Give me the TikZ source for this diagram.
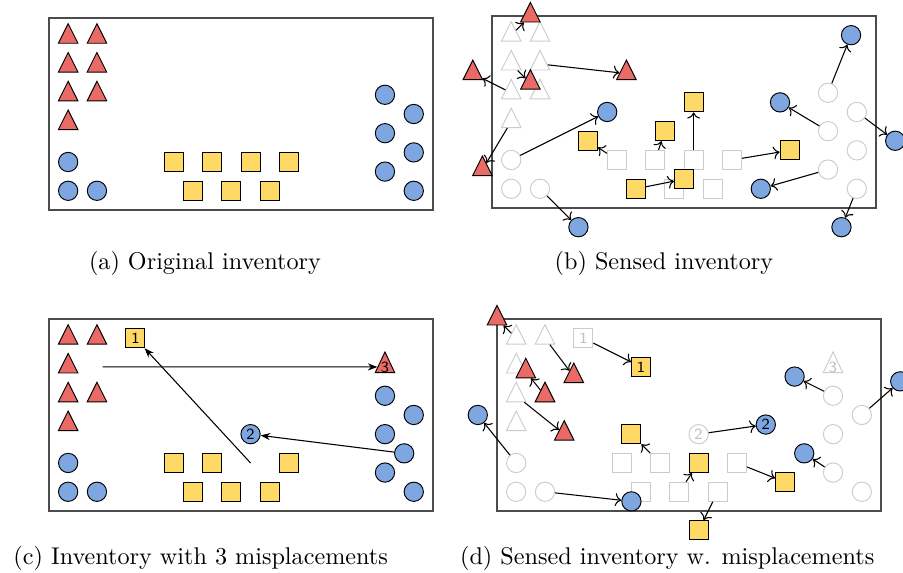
\documentclass[tikz,border=0pt]{standalone}
\usetikzlibrary{arrows.meta,shapes.geometric}
\definecolor{trired}{HTML}{EA6B66}
\definecolor{itemblue}{HTML}{7EA6E0}
\definecolor{boxyellow}{HTML}{FFD966}
\newcommand\digitfont{\fontsize{6.5}{6.5}\selectfont\sffamily}
\tikzset{
  frame/.style  = {draw=black!70, line width=0.5pt},
  tri/.style    = {isosceles triangle, isosceles triangle stretches,
                   shape border rotate=90, minimum width=8.2pt,
                   minimum height=8.2pt, inner sep=0pt, draw=black,
                   fill=trired, font=\digitfont},
  circ/.style   = {circle, minimum size=8.1pt, inner sep=0pt, draw=black,
                   fill=itemblue, font=\digitfont},
  sq/.style     = {rectangle, minimum size=8pt, inner sep=0pt, draw=black,
                   fill=boxyellow, font=\digitfont},
  ghost/.style  = {draw=black!20, fill=white, text=black!25},
  mv/.style     = {-{To}, draw=black, line width=0.45pt},
  mis/.style    = {-{Stealth[length=4pt]}, draw=black, line width=0.45pt},
  subcap/.style = {anchor=base, font=\fontsize{10.15}{12}\selectfont},
}
% item slots of the original inventory: number/x/y
\def\trilist{1/2/18,2/5/18,3/2/15,4/5/15,5/2/12,6/5/12,7/2/9}
\def\circlist{1/2/5,2/2/2,3/5/2,4/35/12,5/38/10,6/35/8,7/38/6,8/35/4,9/38/2}
\def\sqlist{1/13/5,2/17/5,3/21/5,4/25/5,5/15/2,6/19/2,7/23/2}

\begin{document}
\begin{tikzpicture}[x=4.03pt, y=4.03pt]
  \useasboundingbox (-5.10,-37.81) rectangle (88.96,21.875);

  % (a) original inventory
  \draw[frame] (0,0) rectangle (40,20);
  \foreach \n/\x/\y in \trilist  {\node[tri]  (a-t\n) at (\x,\y) {};}
  \foreach \n/\x/\y in \circlist {\node[circ] (a-c\n) at (\x,\y) {};}
  \foreach \n/\x/\y in \sqlist   {\node[sq]   (a-s\n) at (\x,\y) {};}

  % (b) sensed inventory
  \begin{scope}[shift={(46.15,0.21)}]
    \draw[frame] (0,0) rectangle (40,20);
    \foreach \n/\x/\y in \trilist  {\node[tri,ghost]  (b-gt\n) at (\x,\y) {};}
    \foreach \n/\x/\y in \circlist {\node[circ,ghost] (b-gc\n) at (\x,\y) {};}
    \foreach \n/\x/\y in \sqlist   {\node[sq,ghost]   (b-gs\n) at (\x,\y) {};}
    \node[tri]  (b-t1) at (4,20)  {};
    \node[tri]  (b-t3) at (4,13)  {};
    \node[tri]  (b-t4) at (14,14) {};
    \node[tri]  (b-t5) at (-2,14) {};
    \node[tri]  (b-t7) at (-1,4)  {};
    \node[circ] (b-c1) at (12,10)   {};
    \node[circ] (b-c3) at (9,-2)    {};
    \node[circ] (b-c4) at (37.4,18) {};
    \node[circ] (b-c5) at (42,7)    {};
    \node[circ] (b-c6) at (30,11)   {};
    \node[circ] (b-c8) at (28,2)    {};
    \node[circ] (b-c9) at (36.4,-2) {};
    \node[sq]   (b-s1) at (10,7) {};
    \node[sq]   (b-s2) at (18,8) {};
    \node[sq]   (b-s3) at (21,11) {};
    \node[sq]   (b-s4) at (31,6) {};
    \node[sq]   (b-s5) at (15,2) {};
    \node[sq]   (b-s6) at (20,3) {};
    \draw[mv] (b-gt1) -- (b-t1);
    \draw[mv] (b-gt3) -- (b-t3);
    \draw[mv] (b-gt4) -- (b-t4);
    \draw[mv] (b-gt5) -- (b-t5);
    \draw[mv] (b-gt7) -- (b-t7);
    \draw[mv] (b-gc1) -- (b-c1);
    \draw[mv] (b-gc3) -- (b-c3);
    \draw[mv] (b-gc4) -- (b-c4);
    \draw[mv] (b-gc5) -- (b-c5);
    \draw[mv] (b-gc6) -- (b-c6);
    \draw[mv] (b-gc8) -- (b-c8);
    \draw[mv] (b-gc9) -- (b-c9);
    \draw[mv] (b-gs1) -- (b-s1);
    \draw[mv] (b-gs2) -- (b-s2);
    \draw[mv] (b-gs3) -- (b-s3);
    \draw[mv] (b-gs4) -- (b-s4);
    \draw[mv] (b-s5) -- (b-s6);
  \end{scope}

  % (c) inventory with three misplaced items
  \begin{scope}[shift={(0,-31.35)}]
    \draw[frame] (0,0) rectangle (40,20);
    \foreach \n/\x/\y in {1/2/18,2/5/18,3/2/15,5/2/12,6/5/12,7/2/9}
      {\node[tri] (c-t\n) at (\x,\y) {};}
    \foreach \n/\x/\y in {1/2/5,2/2/2,3/5/2,4/35/12,5/38/10,6/35/8,7/37/6,8/35/4,9/38/2}
      {\node[circ] (c-c\n) at (\x,\y) {};}
    \foreach \n/\x/\y in {1/13/5,2/17/5,4/25/5,5/15/2,6/19/2,7/23/2}
      {\node[sq] (c-s\n) at (\x,\y) {};}
    \node[sq]   (c-m1) at (9,18)  {1};
    \node[circ] (c-m2) at (21,8)  {2};
    \node[tri]  (c-m3) at (35,15) {3};
    \coordinate (c-o1) at (21,5);
    \coordinate (c-o3) at (5.6,15);
    \draw[mis] (c-o1) -- (c-m1);
    \draw[mis] (c-c7) -- (c-m2);
    \draw[mis] (c-o3) -- (c-m3);
  \end{scope}

  % (d) sensed inventory with the misplaced items
  \begin{scope}[shift={(46.67,-31.35)}]
    \draw[frame] (0,0) rectangle (40,20);
    \foreach \n/\x/\y in {1/2/18,2/5/18,3/2/15,5/2/12,6/5/12,7/2/9}
      {\node[tri,ghost] (d-gt\n) at (\x,\y) {};}
    \foreach \n/\x/\y in {1/2/5,2/2/2,3/5/2,4/35/12,5/38/10,6/35/8,8/35/4,9/38/2}
      {\node[circ,ghost] (d-gc\n) at (\x,\y) {};}
    \foreach \n/\x/\y in {1/13/5,2/17/5,4/25/5,5/15/2,6/19/2,7/23/2}
      {\node[sq,ghost] (d-gs\n) at (\x,\y) {};}
    \node[sq,ghost]   (d-gm1) at (9,18)  {1};
    \node[circ,ghost] (d-gm2) at (21,8)  {2};
    \node[tri,ghost]  (d-gm3) at (35,15) {3};
    \node[tri]  (d-t1)  at (0,20)   {};
    \node[tri]  (d-t2)  at (8,14)   {};
    \node[tri]  (d-t6)  at (5,12)   {};
    \node[tri]  (d-t6b) at (3,14.5) {};
    \node[tri]  (d-t5)  at (7,8)    {};
    \node[circ] (d-c1) at (-2,10)   {};
    \node[circ] (d-c3) at (14,1)    {};
    \node[circ] (d-c4) at (31,14)   {};
    \node[circ] (d-c5) at (42,13.5) {};
    \node[circ] (d-c8) at (32,6)    {};
    \node[circ] (d-m2) at (28,9)    {2};
    \node[sq]   (d-s2) at (14,8)  {};
    \node[sq]   (d-s6) at (21,5)  {};
    \node[sq]   (d-s4) at (30,3)  {};
    \node[sq]   (d-s7) at (21,-2) {};
    \node[sq]   (d-m1) at (15,15) {1};
    \draw[mv] (d-gt1) -- (d-t1);
    \draw[mv] (d-gt2) -- (d-t2);
    \draw[mv] (d-t6)  -- (d-t6b);
    \draw[mv] (d-gt5) -- (d-t5);
    \draw[mv] (d-gc1) -- (d-c1);
    \draw[mv] (d-gc3) -- (d-c3);
    \draw[mv] (d-gc4) -- (d-c4);
    \draw[mv] (d-gc5) -- (d-c5);
    \draw[mv] (d-gc8) -- (d-c8);
    \draw[mv] (d-gm2) -- (d-m2);
    \draw[mv] (d-gs2) -- (d-s2);
    \draw[mv] (d-gs6) -- (d-s6);
    \draw[mv] (d-gs4) -- (d-s4);
    \draw[mv] (d-gs7) -- (d-s7);
    \draw[mv] (d-gm1) -- (d-m1);
  \end{scope}

  \node[subcap] (a-cap) at (16.25,-6.24)  {(a) Original inventory};
  \node[subcap] (b-cap) at (64.06,-6.24)  {(b) Sensed inventory};
  \node[subcap] (c-cap) at (15.8,-36.95)  {(c) Inventory with 3 misplacements};
  \node[subcap] (d-cap) at (64.4,-36.95)  {(d) Sensed inventory w. misplacements};
\end{tikzpicture}
\end{document}
